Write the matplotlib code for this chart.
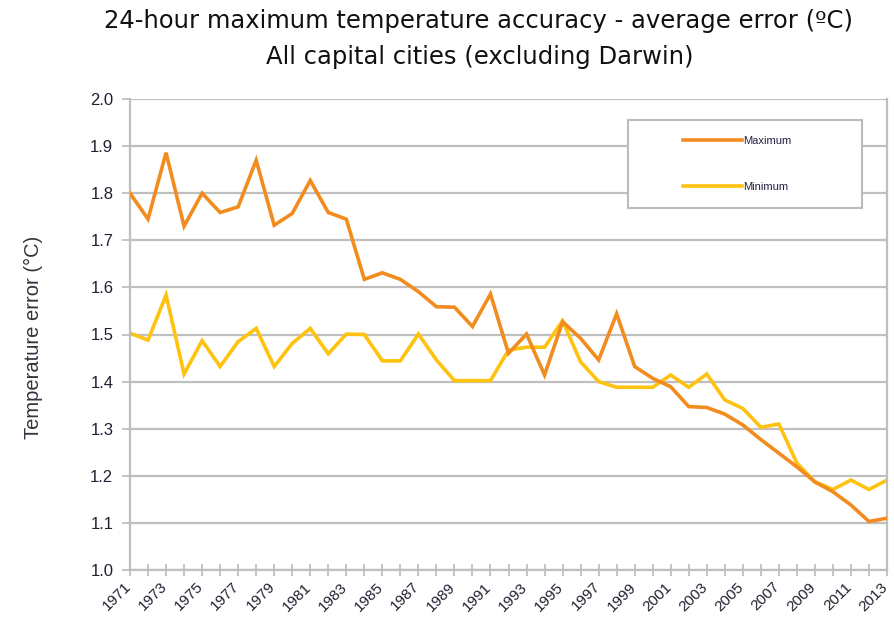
import matplotlib
matplotlib.use("Agg")
import matplotlib.pyplot as plt
import matplotlib.transforms as mtransforms
from matplotlib.patches import Rectangle

years = list(range(1971, 2014))
maximum = [1.80, 1.745, 1.886, 1.730, 1.80, 1.759, 1.771, 1.870, 1.732, 1.757,
           1.827, 1.759, 1.745, 1.617, 1.631, 1.617, 1.591, 1.559, 1.558, 1.517,
           1.586, 1.460, 1.501, 1.414, 1.527, 1.492, 1.446, 1.544, 1.432, 1.407,
           1.389, 1.347, 1.345, 1.331, 1.308, 1.277, 1.248, 1.219, 1.187, 1.166,
           1.138, 1.103, 1.110]
minimum = [1.503, 1.488, 1.584, 1.416, 1.487, 1.432, 1.485, 1.513, 1.432, 1.481,
           1.513, 1.459, 1.501, 1.500, 1.444, 1.444, 1.501, 1.446, 1.402, 1.402,
           1.402, 1.467, 1.473, 1.473, 1.529, 1.442, 1.400, 1.388, 1.388, 1.388,
           1.414, 1.388, 1.416, 1.361, 1.343, 1.303, 1.310, 1.227, 1.187, 1.171,
           1.191, 1.171, 1.191]
yticks = [1.0, 1.1, 1.2, 1.3, 1.4, 1.5, 1.6, 1.7, 1.8, 1.9, 2.0]
title1 = "24-hour maximum temperature accuracy - average error (ºC)"
title2 = "All capital cities (excluding Darwin)"
ylabel = "Temperature error (°C)"

plt.rcParams['font.family'] = ['Liberation Sans', 'DejaVu Sans']

W, H = 894, 622
fig = plt.figure(figsize=(W / 100, H / 100), dpi=100)
ax = fig.add_axes([130 / W, 1 - 570 / H, (887 - 130) / W, (570 - 99) / H])

c_max = '#F28C1E'
c_min = '#FFC20E'
grid_c = '#BFBFBF'
txt_c = '#202030'

ax.plot(years, maximum, color=c_max, lw=2.6, label='Maximum', solid_joinstyle='miter', zorder=3)
ax.plot(years, minimum, color=c_min, lw=2.6, label='Minimum', solid_joinstyle='miter', zorder=2)

ax.set_xlim(1971, 2013)
ax.set_ylim(1.0, 2.0)
ax.set_yticks(yticks)
ax.set_yticklabels([f"{v:.1f}" for v in yticks], fontsize=12, color=txt_c)
ax.set_xticks(years)
ax.set_xticklabels([str(y) if (y - 1971) % 2 == 0 else '' for y in years],
                   rotation=45, ha='right', rotation_mode='anchor', fontsize=11, color=txt_c)
ax.tick_params(axis='x', direction='inout', length=8, width=1.3, color=grid_c, pad=3)
ax.tick_params(axis='y', direction='out', length=6, width=1.3, color=grid_c, pad=6)
shift = mtransforms.ScaledTranslation(-6 / 100, 0, fig.dpi_scale_trans)
for lab in ax.get_xticklabels():
    lab.set_transform(lab.get_transform() + shift)

ax.grid(axis='y', color=grid_c, lw=1.6, zorder=0)
for s in ['left', 'right', 'bottom']:
    ax.spines[s].set_color(grid_c)
    ax.spines[s].set_linewidth(1.6)
ax.spines['top'].set_visible(False)

fig.text(479 / W, 1 - 21 / H, title1, ha='center', va='center', fontsize=17.5,
         color='#111111', family=['DejaVu Sans'])
fig.text(480 / W, 1 - 57 / H, title2, ha='center', va='center', fontsize=17.5,
         color='#111111', family=['DejaVu Sans'])
fig.text(33 / W, 1 - 337 / H, ylabel, rotation=90, ha='center', va='center',
         fontsize=14.5, color='#333340')

# legend box
fig.patches.append(Rectangle((628 / W, 1 - 208 / H), (862 - 628) / W, (208 - 120) / H,
                             transform=fig.transFigure, facecolor='white',
                             edgecolor='#BBBBBB', lw=1.5, zorder=5))
leg = fig.legend(loc='upper left', bbox_to_anchor=(683 / W, 1 - 136 / H),
                 frameon=False, fontsize=8, handlelength=5.3, handletextpad=0.15,
                 labelspacing=3.2, borderpad=0, borderaxespad=0)
leg.set_zorder(6)
for t in leg.get_texts():
    t.set_color('#222244')

fig.savefig('out.png', dpi=100)
